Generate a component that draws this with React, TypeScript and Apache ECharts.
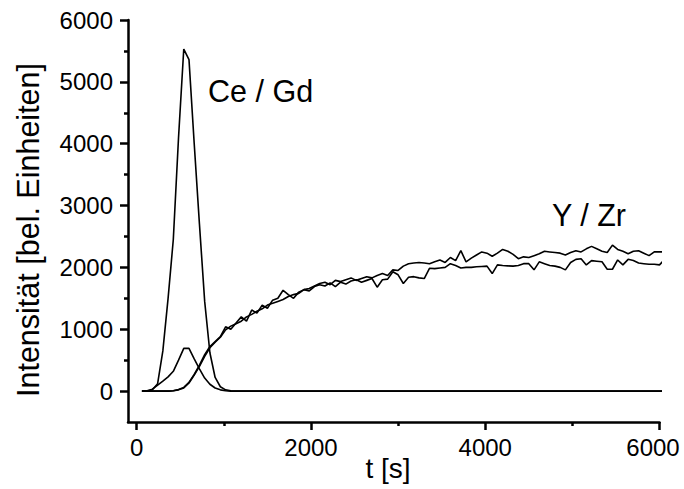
import React, { useEffect, useRef } from "react";
import * as echarts from "echarts";

// time [s]
const times = [
  60, 120, 180, 240, 300, 360, 420, 480, 540, 600,
  660, 720, 780, 840, 900, 960, 1020, 1080, 1140, 1200,
  1260, 1320, 1380, 1440, 1500, 1560, 1620, 1680, 1740, 1800,
  1860, 1920, 1980, 2040, 2100, 2160, 2220, 2280, 2340, 2400,
  2460, 2520, 2580, 2640, 2700, 2760, 2820, 2880, 2940, 3000,
  3060, 3120, 3180, 3240, 3300, 3360, 3420, 3480, 3540, 3600,
  3660, 3720, 3780, 3840, 3900, 3960, 4020, 4080, 4140, 4200,
  4260, 4320, 4380, 4440, 4500, 4560, 4620, 4680, 4740, 4800,
  4860, 4920, 4980, 5040, 5100, 5160, 5220, 5280, 5340, 5400,
  5460, 5520, 5580, 5640, 5700, 5760, 5820, 5880, 5940, 6000,
  6060,
];

// Ce (large peak)
const ceValues = [
  0, 0, 20, 120, 650, 1500, 2450, 4100, 5530, 5360,
  4000, 2700, 1450, 620, 220, 70, 20, 5, 0, 0,
  0, 0, 0, 0, 0, 0, 0, 0, 0, 0,
  0, 0, 0, 0, 0, 0, 0, 0, 0, 0,
  0, 0, 0, 0, 0, 0, 0, 0, 0, 0,
  0, 0, 0, 0, 0, 0, 0, 0, 0, 0,
  0, 0, 0, 0, 0, 0, 0, 0, 0, 0,
  0, 0, 0, 0, 0, 0, 0, 0, 0, 0,
  0, 0, 0, 0, 0, 0, 0, 0, 0, 0,
  0, 0, 0, 0, 0, 0, 0, 0, 0, 0,
  0,
];

// Gd (small peak)
const gdValues = [
  0, 5, 30, 95, 160, 230, 320, 500, 690, 690,
  520, 360, 210, 110, 50, 20, 5, 0, 0, 0,
  0, 0, 0, 0, 0, 0, 0, 0, 0, 0,
  0, 0, 0, 0, 0, 0, 0, 0, 0, 0,
  0, 0, 0, 0, 0, 0, 0, 0, 0, 0,
  0, 0, 0, 0, 0, 0, 0, 0, 0, 0,
  0, 0, 0, 0, 0, 0, 0, 0, 0, 0,
  0, 0, 0, 0, 0, 0, 0, 0, 0, 0,
  0, 0, 0, 0, 0, 0, 0, 0, 0, 0,
  0, 0, 0, 0, 0, 0, 0, 0, 0, 0,
  0,
];

// Y (upper rising curve)
const yValues = [
  0, 0, 0, 0, 0, 0, 5, 25, 60, 140,
  270, 420, 590, 720, 800, 880, 1040, 1000, 1100, 1200,
  1130, 1310, 1260, 1390, 1340, 1470, 1500, 1630, 1560, 1500,
  1600, 1640, 1660, 1700, 1740, 1760, 1720, 1790, 1770, 1800,
  1830, 1790, 1820, 1850, 1830, 1870, 1900, 1870, 1960, 1950,
  2020, 2060, 2070, 2080, 2070, 2060, 2090, 2120, 2080, 2160,
  2110, 2270, 2090, 2150, 2200, 2250, 2230, 2180, 2230, 2290,
  2260, 2210, 2140, 2170, 2160, 2190, 2220, 2260, 2250, 2240,
  2230, 2200, 2240, 2270, 2250, 2300, 2340, 2300, 2260, 2240,
  2360, 2290, 2260, 2220, 2260, 2270, 2230, 2190, 2250, 2250,
  2250,
];

// Zr (lower rising curve)
const zrValues = [
  0, 0, 0, 0, 0, 0, 5, 20, 50, 130,
  260, 400, 560, 700, 790, 870, 990, 1050, 1090, 1130,
  1200, 1240, 1290, 1330, 1390, 1420, 1450, 1480, 1530, 1560,
  1580, 1640, 1620, 1690, 1720, 1700, 1750, 1690, 1760, 1730,
  1780, 1800, 1760, 1790, 1820, 1680, 1800, 1810, 1930, 1880,
  1740, 1840, 1850, 1830, 1820, 1985, 1980, 1990, 2000, 2060,
  2030, 1990, 2000, 2000, 2010, 2015, 2020, 1900, 2040, 2030,
  2025, 2020, 2030, 2060, 2060, 1960, 2090, 2060, 2030, 2020,
  2000, 1960, 2080, 2130, 2140, 2040, 2110, 2100, 2090, 1970,
  1970, 2120, 2040, 2130, 2110, 2070, 2060, 2050, 2050, 2040,
  2130,
];

const xMajorTicks = [0, 2000, 4000, 6000];
const xMinorTicks = [1000, 3000, 5000];
const yMajorTicks = [0, 1000, 2000, 3000, 4000, 5000, 6000];
const yMinorTicks = [500, 1500, 2500, 3500, 4500, 5500];

const FONT = '"Liberation Sans", Arial, Helvetica, sans-serif';

export default function App() {
  const ref = useRef<HTMLDivElement>(null);

  useEffect(() => {
    if (!ref.current) return;
    const chart = echarts.init(ref.current, null, { renderer: "svg" });

    const pairs = (vals: number[]) => times.map((t, i) => [t, vals[i]]);
    const lineSeries = (name: string, vals: number[]) => ({
      name,
      type: "line",
      data: pairs(vals),
      showSymbol: false,
      symbol: "none",
      clip: false,
      lineStyle: { color: "#000", width: 1.6 },
      itemStyle: { color: "#000" },
      xAxisIndex: 0,
      yAxisIndex: 0,
      z: 3,
    });

    const als = () => ({ color: "#000000", width: 2.5, opacity: 1, type: "solid" });
    const plain = (v: number) => String(v);
    const xLabel = (v: number) => (v === 6000 ? "{e|" + v + "}" : String(v));

    chart.setOption({
      animation: false,
      backgroundColor: "#fff",
      textStyle: { fontFamily: FONT },
      grid: {
        left: 128,
        top: 20,
        width: 531.5,
        height: 402,
        containLabel: false,
        outerBoundsMode: "none",
      },
      xAxis: [
        {
          type: "value",
          min: -100,
          max: 6000,
          position: "bottom",
          axisLine: { show: true, onZero: false, lineStyle: als() },
          axisTick: {
            show: true,
            length: 8,
            customValues: xMajorTicks,
            lineStyle: als(),
          },
          axisLabel: {
            show: true,
            customValues: xMajorTicks,
            formatter: xLabel,
            margin: 13,
            fontSize: 24,
            fontFamily: FONT,
            color: "#000",
            rich: {
              e: {
                fontSize: 24,
                fontFamily: FONT,
                color: "#000",
                padding: [0, 13, 0, 0],
              },
            },
          },
          splitLine: { show: false },
        },
        {
          type: "value",
          min: -100,
          max: 6000,
          position: "bottom",
          axisLine: { show: false, onZero: false },
          axisTick: {
            show: true,
            length: 4,
            customValues: xMinorTicks,
            lineStyle: als(),
          },
          axisLabel: { show: false },
          splitLine: { show: false },
        },
      ],
      yAxis: [
        {
          type: "value",
          min: -500,
          max: 6000,
          position: "left",
          axisLine: { show: true, onZero: false, lineStyle: als() },
          axisTick: {
            show: true,
            length: 8,
            customValues: yMajorTicks,
            lineStyle: als(),
          },
          axisLabel: {
            show: true,
            customValues: yMajorTicks,
            formatter: plain,
            margin: 15,
            fontSize: 24,
            fontFamily: FONT,
            color: "#000",
          },
          splitLine: { show: false },
        },
        {
          type: "value",
          min: -500,
          max: 6000,
          position: "left",
          axisLine: { show: false, onZero: false },
          axisTick: {
            show: true,
            length: 4,
            customValues: yMinorTicks,
            lineStyle: als(),
          },
          axisLabel: { show: false },
          splitLine: { show: false },
        },
      ],
      series: [
        lineSeries("Ce", ceValues),
        lineSeries("Gd", gdValues),
        lineSeries("Y", yValues),
        lineSeries("Zr", zrValues),
      ],
      graphic: [
        {
          type: "text",
          x: 28,
          y: 230,
          rotation: Math.PI / 2,
          style: {
            text: "Intensität [bel. Einheiten]",
            font: `30.5px ${FONT}`,
            fill: "#000",
            textAlign: "center",
            textVerticalAlign: "middle",
          },
        },
        {
          type: "text",
          x: 388,
          y: 468.5,
          style: {
            text: "t [s]",
            font: `28px ${FONT}`,
            fill: "#000",
            textAlign: "center",
            textVerticalAlign: "middle",
          },
        },
        {
          type: "text",
          x: 208,
          y: 91,
          style: {
            text: "Ce / Gd",
            font: `30.5px ${FONT}`,
            fill: "#000",
            textAlign: "left",
            textVerticalAlign: "middle",
          },
        },
        {
          type: "text",
          x: 552,
          y: 215,
          style: {
            text: "Y / Zr",
            font: `30.5px ${FONT}`,
            fill: "#000",
            textAlign: "left",
            textVerticalAlign: "middle",
          },
        },
      ],
    });

    return () => chart.dispose();
  }, []);

  return (
    <div
      ref={ref}
      style={{ position: "absolute", left: 0, top: 0, width: 684, height: 489 }}
    />
  );
}
